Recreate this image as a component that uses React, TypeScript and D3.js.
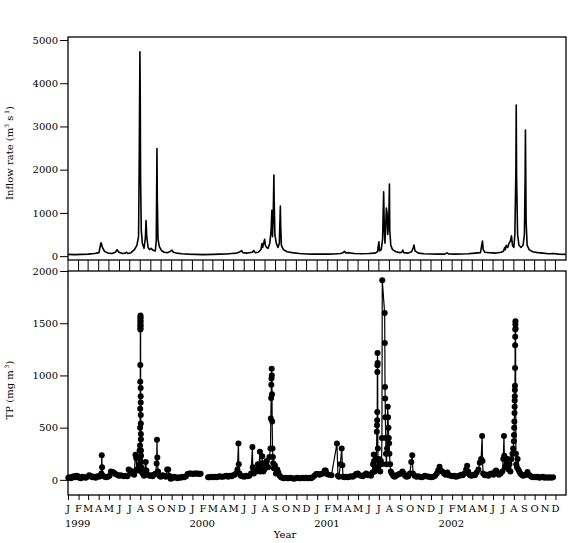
import React, { useRef, useEffect } from 'react';
import * as d3 from 'd3';

// inflow rate (m3 s-1), ["MM-DD", value] per year
const inflow1999: [string, number][] = [
    ['01-01', 40], ['01-20', 35], ['02-10', 40], ['03-01', 45], ['03-20', 60], ['04-02', 80],
    ['04-06', 250], ['04-08', 310], ['04-12', 200], ['04-18', 110], ['04-28', 70], ['05-10', 60],
    ['05-20', 90], ['05-25', 150], ['05-30', 90], ['06-10', 60], ['06-18', 70], ['06-22', 90],
    ['06-26', 60], ['07-05', 80], ['07-15', 150], ['07-22', 250], ['07-27', 450], ['07-29', 2250],
    ['07-31', 4730], ['08-01', 3650], ['08-02', 1760], ['08-04', 600], ['08-07', 300], ['08-12', 180],
    ['08-16', 420], ['08-18', 820], ['08-20', 450], ['08-24', 200], ['08-28', 150], ['09-02', 180],
    ['09-06', 140], ['09-10', 130], ['09-14', 120], ['09-17', 350], ['09-19', 2490], ['09-20', 1340],
    ['09-22', 400], ['09-26', 220], ['10-02', 130], ['10-10', 90], ['10-20', 80], ['10-28', 110],
    ['11-02', 140], ['11-06', 90], ['11-15', 70], ['12-01', 55], ['12-20', 45],
];
const inflow2000: [string, number][] = [
    ['01-10', 40], ['02-01', 35], ['03-01', 40], ['03-20', 45], ['04-10', 50], ['04-25', 60],
    ['05-10', 70], ['05-20', 100], ['05-24', 130], ['05-28', 80], ['06-10', 70], ['06-25', 90],
    ['06-29', 130], ['07-03', 80], ['07-12', 90], ['07-20', 150], ['07-23', 290], ['07-25', 200],
    ['07-28', 300], ['07-31', 390], ['08-02', 250], ['08-06', 200], ['08-10', 180], ['08-15', 300],
    ['08-19', 600], ['08-21', 1060], ['08-23', 450], ['08-25', 900], ['08-27', 1875], ['08-28', 1230],
    ['08-30', 500], ['09-03', 300], ['09-08', 200], ['09-12', 300], ['09-15', 1160], ['09-16', 700],
    ['09-18', 250], ['09-24', 150], ['10-05', 100], ['10-20', 80], ['11-10', 60], ['12-01', 50],
    ['12-20', 45],
];
const inflow2001: [string, number][] = [
    ['01-10', 45], ['02-01', 45], ['02-20', 50], ['03-10', 60], ['03-18', 80], ['03-22', 110],
    ['03-26', 75], ['04-05', 80], ['04-10', 70], ['04-20', 60], ['05-10', 55], ['06-01', 60],
    ['06-20', 70], ['06-27', 100], ['07-01', 330], ['07-03', 120], ['07-08', 150], ['07-12', 400],
    ['07-15', 1490], ['07-17', 600], ['07-19', 300], ['07-21', 700], ['07-23', 1110], ['07-25', 1000],
    ['07-27', 500], ['07-30', 800], ['08-01', 1670], ['08-02', 600], ['08-05', 250], ['08-10', 150],
    ['08-20', 100], ['09-01', 80], ['09-06', 90], ['09-09', 140], ['09-12', 80], ['09-25', 70],
    ['10-05', 100], ['10-10', 200], ['10-12', 255], ['10-15', 120], ['10-25', 70], ['11-10', 55],
    ['12-01', 50], ['12-20', 45],
];
const inflow2002: [string, number][] = [
    ['01-10', 45], ['01-17', 75], ['01-22', 50], ['02-10', 45], ['03-01', 50], ['03-20', 55],
    ['04-10', 70], ['04-25', 80], ['05-01', 350], ['05-03', 150], ['05-08', 90], ['05-20', 80],
    ['06-10', 70], ['06-25', 90], ['07-02', 120], ['07-05', 200], ['07-07', 150], ['07-10', 250],
    ['07-14', 200], ['07-18', 300], ['07-22', 350], ['07-25', 470], ['07-28', 250], ['08-01', 200],
    ['08-04', 500], ['08-07', 2000], ['08-08', 3495], ['08-09', 1835], ['08-12', 500], ['08-16', 250],
    ['08-22', 200], ['08-28', 250], ['09-01', 500], ['09-03', 1720], ['09-04', 2917], ['09-06', 800],
    ['09-09', 250], ['09-15', 150], ['09-25', 100], ['10-10', 80], ['10-25', 70], ['11-10', 55],
    ['11-25', 60], ['12-10', 45], ['12-31', 40],
];

// TP (mg m-3), ["MM-DD" or "MM-DD HH", value]; null = no sampling
const tp1999: [string, number | null][] = [
    ['01-02', 20], ['01-06', 25], ['01-10', 15], ['01-14', 30], ['01-18', 35], ['01-22', 25],
    ['01-26', 40], ['01-30', 35], ['02-03', 20], ['02-08', 15], ['02-12', 30], ['02-17', 25],
    ['02-22', 20], ['02-27', 30], ['03-04', 45], ['03-08', 40], ['03-13', 25], ['03-18', 30],
    ['03-23', 20], ['03-28', 35], ['04-02', 30], ['04-06', 40], ['04-09', 60], ['04-10', 236],
    ['04-11', 120], ['04-13', 40], ['04-18', 30], ['04-23', 25], ['04-28', 30], ['05-03', 40],
    ['05-07', 80], ['05-11', 75], ['05-15', 70], ['05-20', 55], ['05-25', 50], ['05-30', 40],
    ['06-04', 45], ['06-09', 40], ['06-14', 35], ['06-19', 40], ['06-24', 35], ['06-28', 100],
    ['07-02', 90], ['07-06', 60], ['07-10', 80], ['07-14', 50], ['07-18', 240], ['07-20', 210],
    ['07-22', 100], ['07-25', 90], ['07-28', 150], ['07-30', 280],
    ['07-31 00', 200], ['07-31 06', 330], ['07-31 12', 500], ['07-31 18', 680], ['08-01 00', 940],
    ['08-01 03', 1100], ['08-01 06', 1440], ['08-01 08', 1470], ['08-01 10', 1500], ['08-01 12', 1530],
    ['08-01 14', 1560], ['08-01 16', 1575], ['08-01 18', 1550], ['08-01 20', 1520], ['08-01 22', 1480],
    ['08-02 00', 1450], ['08-02 03', 880], ['08-02 06', 800], ['08-02 09', 740], ['08-02 12', 620],
    ['08-02 15', 540], ['08-02 18', 440], ['08-02 21', 390], ['08-03 00', 280], ['08-03 06', 230],
    ['08-03 12', 170], ['08-03 18', 120], ['08-04', 80], ['08-08', 60], ['08-12', 40], ['08-17', 170],
    ['08-19', 90], ['08-23', 50], ['08-28', 40], ['09-02', 45], ['09-06', 35], ['09-10', 50],
    ['09-15', 60], ['09-18', 156], ['09-19', 385], ['09-20', 213], ['09-22', 80], ['09-26', 40],
    ['09-30', 30], ['10-05', 45], ['10-10', 40], ['10-15', 30], ['10-19', 100], ['10-22', 100],
    ['10-25', 40], ['10-29', 10], ['11-03', 15], ['11-08', 30], ['11-13', 25], ['11-18', 15],
    ['11-23', 25], ['11-28', 20], ['12-03', 30], ['12-08', 25], ['12-13', 35], ['12-18', 55],
    ['12-23', 60], ['12-28', 60],
];
const tp2000: [string, number | null][] = [
    ['01-02', 55], ['01-06', 60], ['01-10', 62], ['01-14', 58], ['01-18', 60], ['01-22', 55],
    ['01-25', 58], ['02-05', null], ['02-16', 25], ['02-20', 25], ['02-25', 30], ['03-01', 25],
    ['03-06', 30], ['03-11', 25], ['03-16', 30], ['03-21', 35], ['03-26', 30], ['03-31', 30],
    ['04-05', 35], ['04-10', 40], ['04-15', 30], ['04-20', 40], ['04-25', 35], ['04-30', 45],
    ['05-04', 50], ['05-08', 60], ['05-12', 100], ['05-15', 348], ['05-16', 150], ['05-18', 60],
    ['05-22', 40], ['05-27', 35], ['06-01', 30], ['06-06', 40], ['06-11', 35], ['06-16', 40],
    ['06-21', 60], ['06-25', 315], ['06-26', 120], ['06-29', 60], ['07-03', 100], ['07-07', 80],
    ['07-11', 150], ['07-14', 120], ['07-17', 268], ['07-18', 80], ['07-21', 90], ['07-24', 226],
    ['07-25', 160], ['07-27', 80], ['07-30', 100], ['08-02', 150], ['08-06', 180], ['08-10', 120],
    ['08-14', 220], ['08-17', 300], ['08-18', 587], ['08-19', 785], ['08-19 12', 910], ['08-20', 970],
    ['08-20 12', 1065], ['08-21', 1000], ['08-21 12', 820], ['08-22', 560], ['08-23', 300],
    ['08-24', 220], ['08-25', 160], ['08-27', 110], ['08-30', 140], ['09-02', 60], ['09-06', 100],
    ['09-09', 70], ['09-13', 40], ['09-17', 25], ['09-21', 20], ['09-25', 15], ['09-30', 20],
    ['10-05', 15], ['10-10', 15], ['10-15', 20], ['10-20', 15], ['10-25', 10], ['10-30', 15],
    ['11-04', 20], ['11-09', 15], ['11-14', 15], ['11-19', 20], ['11-24', 15], ['11-29', 20],
    ['12-04', 15], ['12-09', 20], ['12-14', 15], ['12-19', 25], ['12-24', 40], ['12-29', 55],
];
const tp2001: [string, number | null][] = [
    ['01-03', 55], ['01-08', 50], ['01-13', 55], ['01-18', 60], ['01-23', 90], ['01-26', 90],
    ['01-30', 55], ['02-04', 50], ['02-12', 45], ['02-28', 348], ['03-03', 40], ['03-06', 30],
    ['03-10', 150], ['03-14', 300], ['03-16', 140], ['03-18', 30], ['03-22', 25], ['03-27', 30],
    ['04-01', 25], ['04-05', 30], ['04-10', 35], ['04-15', 30], ['04-20', 40], ['04-25', 55],
    ['04-30', 60], ['05-05', 45], ['05-10', 40], ['05-15', 35], ['05-20', 50], ['05-25', 60],
    ['05-30', 45], ['06-03', 50], ['06-08', 40], ['06-12', 70], ['06-14', 150], ['06-16', 243],
    ['06-17', 180], ['06-19', 80], ['06-21', 120], ['06-24', 200], ['06-25', 460], ['06-25 12', 523],
    ['06-26', 571], ['06-26 06', 650], ['06-26 12', 1033], ['06-26 18', 1097], ['06-27', 1215],
    ['06-27 12', 1120], ['06-28', 300], ['06-29', 100], ['07-01', 200], ['07-03', 150], ['07-05', 80],
    ['07-07', 180], ['07-09', 150], ['07-10', 400], ['07-11', 1911], ['07-18', 1598],
    ['07-18 12', 1311], ['07-19', 890], ['07-19 12', 778], ['07-20', 600], ['07-21', 400],
    ['07-22', 250], ['07-23', 150], ['07-25', 300], ['07-27', 699], ['07-28', 600], ['07-29', 500],
    ['07-30', 400], ['07-31', 350], ['08-01', 250], ['08-03', 150], ['08-05', 80], ['08-08', 60],
    ['08-12', 40], ['08-16', 30], ['08-20', 40], ['08-25', 50], ['08-30', 55], ['09-04', 60],
    ['09-08', 80], ['09-12', 60], ['09-16', 40], ['09-20', 30], ['09-25', 35], ['09-30', 60],
    ['10-04', 170], ['10-07', 236], ['10-09', 60], ['10-14', 40], ['10-19', 30], ['10-24', 35],
    ['10-29', 30], ['11-03', 25], ['11-08', 30], ['11-13', 40], ['11-18', 35], ['11-23', 30],
    ['11-28', 30], ['12-03', 25], ['12-08', 30], ['12-13', 40], ['12-18', 60], ['12-22', 90],
    ['12-26', 125], ['12-29', 90],
];
const tp2002: [string, number | null][] = [
    ['01-03', 80], ['01-08', 60], ['01-13', 50], ['01-18', 70], ['01-23', 45], ['01-28', 40],
    ['02-02', 35], ['02-07', 40], ['02-12', 30], ['02-17', 35], ['02-22', 40], ['02-27', 50],
    ['03-04', 45], ['03-09', 60], ['03-14', 100], ['03-17', 134], ['03-20', 80], ['03-25', 45],
    ['03-30', 40], ['04-04', 50], ['04-09', 45], ['04-14', 70], ['04-19', 100], ['04-23', 163],
    ['04-27', 200], ['04-30', 421], ['05-01', 180], ['05-03', 60], ['05-08', 45], ['05-13', 50],
    ['05-18', 40], ['05-23', 55], ['05-28', 60], ['06-02', 50], ['06-07', 80], ['06-10', 90],
    ['06-14', 60], ['06-18', 50], ['06-23', 60], ['06-28', 80], ['07-01', 200], ['07-03', 421],
    ['07-04', 230], ['07-06', 120], ['07-08', 200], ['07-10', 150], ['07-13', 200], ['07-16', 100],
    ['07-19', 150], ['07-22', 80], ['07-25', 200], ['07-28', 250], ['07-30', 300], ['08-01', 370],
    ['08-01 12', 430], ['08-02', 500], ['08-02 12', 560], ['08-03', 640], ['08-03 06', 700],
    ['08-03 12', 760], ['08-03 18', 800], ['08-04', 860], ['08-04 06', 900], ['08-04 12', 1072],
    ['08-04 18', 1289], ['08-05', 1370], ['08-05 06', 1440], ['08-05 12', 1490], ['08-05 18', 1518],
    ['08-06', 1450], ['08-07', 250], ['08-08', 150], ['08-10', 120], ['08-12', 200], ['08-14', 100],
    ['08-17', 80], ['08-20', 60], ['08-24', 50], ['08-28', 40], ['09-01', 45], ['09-05', 50],
    ['09-10', 75], ['09-14', 50], ['09-18', 40], ['09-22', 30], ['09-26', 25], ['10-01', 30],
    ['10-05', 25], ['10-10', 30], ['10-15', 20], ['10-20', 25], ['10-25', 30], ['10-30', 20],
    ['11-04', 25], ['11-09', 20], ['11-14', 25], ['11-19', 20], ['11-24', 25],
];

const monthLetters = ['J', 'F', 'M', 'A', 'M', 'J', 'J', 'A', 'S', 'O', 'N', 'D'];
const years = [1999, 2000, 2001, 2002];
const inflowTicks = [0, 1000, 2000, 3000, 4000, 5000];
const tpTicks = [0, 500, 1000, 1500, 2000];

type Pt = { date: Date; v: number | null };

const toPoints = (year: number, rows: [string, number | null][]): Pt[] =>
    rows.map(([s, v]) => {
        const [md, h] = s.split(' ');
        const [m, d] = md.split('-').map(Number);
        return { date: new Date(year, m - 1, d, h ? +h : 0), v };
    });

const App: React.FC = () => {
    const svgRef = useRef<SVGSVGElement | null>(null);

    useEffect(() => {
        if (!svgRef.current) return;
        const svg = d3.select(svgRef.current);
        svg.selectAll('*').remove();

        const font = 'DejaVu Serif';
        const left = 68;
        const right = 566;

        const inflow = [
            ...toPoints(1999, inflow1999),
            ...toPoints(2000, inflow2000),
            ...toPoints(2001, inflow2001),
            ...toPoints(2002, inflow2002),
        ];
        const tp = [
            ...toPoints(1999, tp1999),
            ...toPoints(2000, tp2000),
            ...toPoints(2001, tp2001),
            ...toPoints(2002, tp2002),
        ];

        const x = d3.scaleTime()
            .domain([new Date(1999, 0, 1), new Date(2003, 0, 1)])
            .range([left, right]);
        const yIn = d3.scaleLinear().domain([-90, 5070]).range([260, 37]);
        const yTp = d3.scaleLinear().domain([-145, 2000]).range([495, 271]);

        const months = d3.timeMonth.range(new Date(1999, 0, 1), new Date(2003, 0, 1));

        // strip of month ticks between the panels
        svg.append('g')
            .selectAll('line')
            .data(months)
            .join('line')
            .attr('x1', d => x(d))
            .attr('x2', d => x(d))
            .attr('y1', 260)
            .attr('y2', 271)
            .attr('stroke', '#000')
            .attr('stroke-width', 1);

        // frames
        svg.append('rect')
            .attr('x', left).attr('y', 37)
            .attr('width', right - left).attr('height', 260 - 37)
            .attr('fill', 'none').attr('stroke', '#000').attr('stroke-width', 1.3);
        svg.append('rect')
            .attr('x', left).attr('y', 271)
            .attr('width', right - left).attr('height', 495 - 271)
            .attr('fill', 'none').attr('stroke', '#000').attr('stroke-width', 1.3);

        // y axes
        const styleAxis = (g: d3.Selection<SVGGElement, unknown, null, undefined>) => {
            g.select('.domain').remove();
            g.selectAll('text').attr('font-family', font).attr('font-size', 10).attr('fill', '#000');
            g.selectAll('line').attr('stroke', '#000');
        };
        svg.append('g')
            .attr('transform', `translate(${left},0)`)
            .call(d3.axisLeft(yIn).tickValues(inflowTicks).tickFormat(d3.format('d')).tickSize(8).tickPadding(2))
            .call(styleAxis);
        svg.append('g')
            .attr('transform', `translate(${left},0)`)
            .call(d3.axisLeft(yTp).tickValues(tpTicks).tickFormat(d3.format('d')).tickSize(8).tickPadding(2))
            .call(styleAxis);

        // bottom month ticks and labels
        svg.append('g')
            .attr('transform', 'translate(0,495)')
            .call(d3.axisBottom(x).tickValues(months).tickSize(5).tickFormat(() => ''))
            .call(g => g.select('.domain').remove())
            .call(g => g.selectAll('line').attr('stroke', '#000'));

        svg.append('g')
            .selectAll('text')
            .data(months)
            .join('text')
            .attr('x', d => x(d))
            .attr('y', 512)
            .attr('text-anchor', 'middle')
            .attr('font-family', font)
            .attr('font-size', 10)
            .text(d => monthLetters[d.getMonth()]);

        svg.append('g')
            .selectAll('text')
            .data(years)
            .join('text')
            .attr('x', d => x(new Date(d, 0, 1)) - 3)
            .attr('y', 527)
            .attr('font-family', font)
            .attr('font-size', 10)
            .text(d => d);

        svg.append('text')
            .attr('x', 285).attr('y', 538)
            .attr('text-anchor', 'middle')
            .attr('font-family', font).attr('font-size', 10)
            .text('Year');

        // y labels
        const yl1 = svg.append('text')
            .attr('transform', 'translate(13,153) rotate(-90)')
            .attr('text-anchor', 'middle')
            .attr('font-family', font).attr('font-size', 10);
        yl1.append('tspan').text('Inflow rate (m');
        yl1.append('tspan').attr('font-size', 6).attr('dy', -4).text('3');
        yl1.append('tspan').attr('dy', 4).text(' s');
        yl1.append('tspan').attr('font-size', 6).attr('dy', -4).text(' 1');
        yl1.append('tspan').attr('dy', 4).text(')');

        const yl2 = svg.append('text')
            .attr('transform', 'translate(13,390) rotate(-90)')
            .attr('text-anchor', 'middle')
            .attr('font-family', font).attr('font-size', 10);
        yl2.append('tspan').text('TP (mg m');
        yl2.append('tspan').attr('font-size', 6).attr('dy', -4).text(' 3');
        yl2.append('tspan').attr('dy', 4).text(')');

        // inflow line
        svg.append('path')
            .datum(inflow)
            .attr('d', d3.line<Pt>().x(d => x(d.date)).y(d => yIn(d.v as number)))
            .attr('fill', 'none')
            .attr('stroke', '#000')
            .attr('stroke-width', 1.6)
            .attr('stroke-linejoin', 'round');

        // TP line + points
        svg.append('path')
            .datum(tp)
            .attr('d', d3.line<Pt>().defined(d => d.v != null).x(d => x(d.date)).y(d => yTp(d.v as number)))
            .attr('fill', 'none')
            .attr('stroke', '#000')
            .attr('stroke-width', 1.2);

        svg.append('g')
            .selectAll('circle')
            .data(tp.filter(d => d.v != null))
            .join('circle')
            .attr('cx', d => x(d.date))
            .attr('cy', d => yTp(d.v as number))
            .attr('r', 3)
            .attr('fill', '#000');
    }, []);

    return (
        <svg
            ref={svgRef}
            width={572}
            height={543}
            style={{ position: 'absolute', left: 0, top: 0, background: '#fff' }}
        />
    );
};

export default App;
